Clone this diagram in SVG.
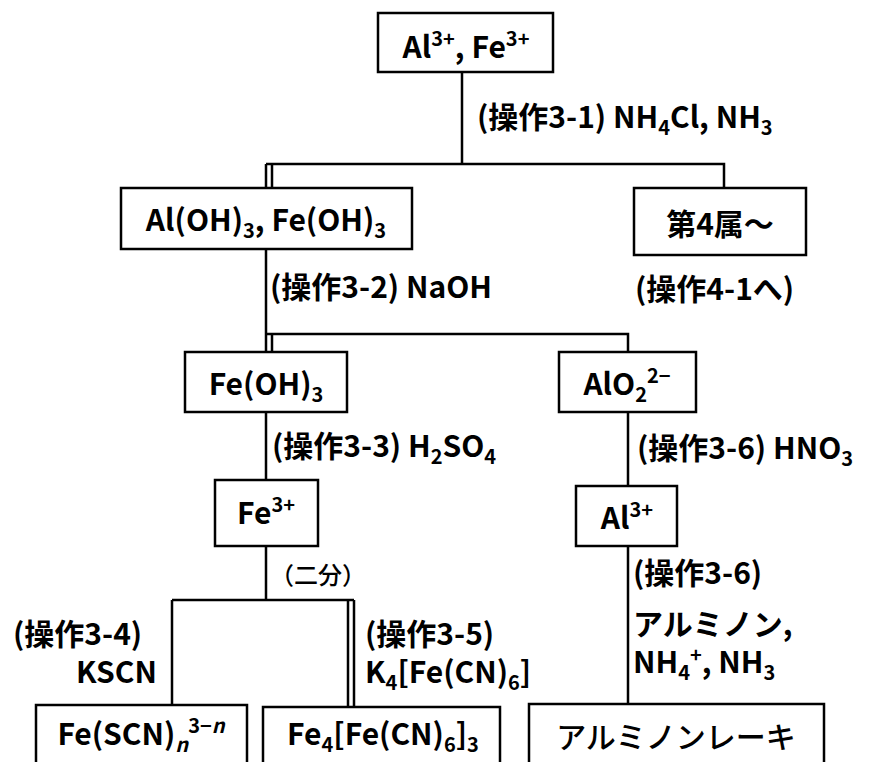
<svg xmlns="http://www.w3.org/2000/svg" width="875" height="762" viewBox="0 0 875 762">
<style>
.box{fill:#fff;stroke:#000;stroke-width:2.5}
.ln{fill:none;stroke:#000;stroke-width:2.5}
text{font-family:"Noto Sans CJK JP","Noto Sans",sans-serif;font-size:30px;fill:#000}
.b{font-weight:bold}
.m{font-weight:bold}
.r{font-weight:500}
.c{text-anchor:middle}
.s{font-size:20px}
</style>
<rect width="875" height="762" fill="#fff"/>
<g id="connectors">
<path class="ln" d="M462,72 V164 M266,164 H724 V188 M266,164 V188 M272,164 V188"/>
<path class="ln" d="M266,249 V334 H628 V352 M272,334 V352 M266,334 V352"/>
<path class="ln" d="M266,412 V480 M266,546 V600 M172,600 H354 M172,600 V705 M348,600 V707 M354,600 V707"/>
<path class="ln" d="M628,412 V486 M628,546 V704"/>
</g>
<g id="n1"><rect class="box" x="378" y="13" width="175" height="59"/>
<text class="c m" x="466" y="58">Al<tspan class="s" dy="-12">3+</tspan><tspan dy="12">, Fe</tspan><tspan class="s" dy="-12">3+</tspan></text></g>
<g id="l1"><text class="b" x="477" y="128">(操作3-1) NH<tspan class="s" dy="7">4</tspan><tspan dy="-7">Cl, NH</tspan><tspan class="s" dy="7">3</tspan></text></g>
<g id="n2"><rect class="box" x="121" y="188" width="291" height="61"/>
<text class="c m" x="266" y="231">Al(OH)<tspan class="s" dy="7">3</tspan><tspan dy="-7">, Fe(OH)</tspan><tspan class="s" dy="7">3</tspan></text></g>
<g id="n3"><rect class="box" x="634" y="188" width="172" height="67"/>
<text class="c b" x="720" y="235">第4属～</text></g>
<g id="l4"><text class="b" x="635" y="300">(操作4-1へ)</text></g>
<g id="l2"><text class="b" x="270" y="298">(操作3-2) NaOH</text></g>
<g id="n4"><rect class="box" x="185" y="352" width="162" height="60"/>
<text class="c m" x="266" y="395">Fe(OH)<tspan class="s" dy="7">3</tspan></text></g>
<g id="n5"><rect class="box" x="559" y="352" width="137" height="60"/>
<text class="c m" x="627" y="395">AlO<tspan class="s" dy="7">2</tspan><tspan class="s" dy="-19">2−</tspan></text></g>
<g id="l3"><text class="b" x="272" y="457">(操作3-3) H<tspan class="s" dy="7">2</tspan><tspan dy="-7">SO</tspan><tspan class="s" dy="7">4</tspan></text></g>
<g id="l6"><text class="b" x="637" y="459">(操作3-6) HNO<tspan class="s" dy="7">3</tspan></text></g>
<g id="n6"><rect class="box" x="215" y="480" width="103" height="66"/>
<text class="c m" x="266" y="524">Fe<tspan class="s" dy="-12">3+</tspan></text></g>
<g id="n7"><rect class="box" x="576" y="486" width="101" height="60"/>
<text class="c m" x="627" y="529">Al<tspan class="s" dy="-12">3+</tspan></text></g>
<g id="l5"><text class="r" x="270" y="584" style="font-size:24px">（二分）</text></g>
<g id="l7"><text class="b" x="13" y="645">(操作3-4)<tspan x="157" dy="38" text-anchor="end">KSCN</tspan></text></g>
<g id="l8"><text class="b" x="365" y="645">(操作3-5)<tspan x="365" dy="38">K</tspan><tspan class="s" dy="7">4</tspan><tspan dy="-7">[Fe(CN)</tspan><tspan class="s" dy="7">6</tspan><tspan dy="-7">]</tspan></text></g>
<g id="l9"><text class="b" x="633" y="584">(操作3-6)<tspan x="633" dy="51">アルミノン,</tspan><tspan x="633" dy="38">NH</tspan><tspan class="s" dy="7">4</tspan><tspan class="s" dy="-18">+</tspan><tspan dy="11">, NH</tspan><tspan class="s" dy="7">3</tspan></text></g>
<g id="n8"><rect class="box" x="36" y="705" width="211" height="80"/>
<text class="c m" x="141" y="745">Fe(SCN)<tspan class="s" dy="7" font-style="italic">n</tspan><tspan class="s" dy="-19">3−<tspan font-style="italic">n</tspan></tspan></text></g>
<g id="n9"><rect class="box" x="263" y="707" width="237" height="80"/>
<text class="c m" x="383" y="745">Fe<tspan class="s" dy="7">4</tspan><tspan dy="-7">[Fe(CN)</tspan><tspan class="s" dy="7">6</tspan><tspan dy="-7">]</tspan><tspan class="s" dy="7">3</tspan></text></g>
<g id="n10"><rect class="box" x="529" y="704" width="295" height="80"/>
<text class="c r" x="676" y="748">アルミノンレーキ</text></g>
</svg>
